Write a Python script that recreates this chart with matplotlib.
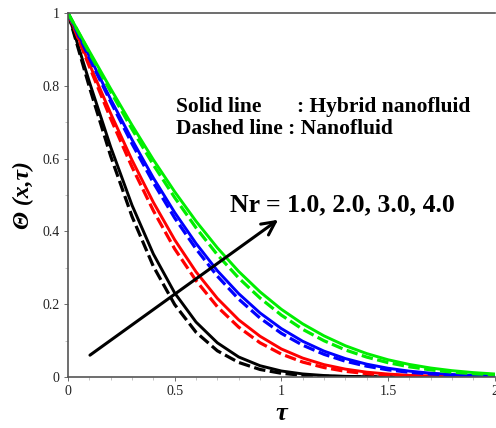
import matplotlib
matplotlib.use("Agg")
import matplotlib.pyplot as plt
from matplotlib.ticker import MultipleLocator

tau = [0.0, 0.1, 0.2, 0.3, 0.4, 0.5, 0.6, 0.7, 0.8, 0.9, 1.0,
       1.1, 1.2, 1.3, 1.4, 1.5, 1.6, 1.7, 1.8, 1.9, 2.0]

# Solid lines: hybrid nanofluid, Nr = 1.0, 2.0, 3.0, 4.0
hybrid_nr1 = [1.0, 0.811, 0.632, 0.472, 0.338, 0.231, 0.151, 0.094, 0.055, 0.031, 0.0165,
              0.0084, 0.0041, 0.0018, 0.0008, 0.0003, 0.0001, 0.0, 0.0, 0.0, 0.0]
hybrid_nr2 = [1.0, 0.860, 0.724, 0.596, 0.480, 0.377, 0.289, 0.216, 0.157, 0.112, 0.077,
              0.052, 0.034, 0.0217, 0.0133, 0.0081, 0.0047, 0.0027, 0.0015, 0.0008, 0.0004]
hybrid_nr3 = [1.0, 0.881, 0.763, 0.652, 0.547, 0.452, 0.367, 0.292, 0.229, 0.176, 0.133,
              0.0982, 0.0711, 0.0506, 0.0353, 0.0241, 0.0161, 0.0105, 0.0068, 0.0043, 0.0026]
hybrid_nr4 = [1.0, 0.895, 0.792, 0.692, 0.597, 0.509, 0.428, 0.355, 0.290, 0.234, 0.186,
              0.146, 0.113, 0.0859, 0.0644, 0.0474, 0.0345, 0.0247, 0.0174, 0.0121, 0.0083]

# Dashed lines: nanofluid, Nr = 1.0, 2.0, 3.0, 4.0
nano_nr1 = [1.0, 0.797, 0.607, 0.441, 0.304, 0.199, 0.123, 0.072, 0.040, 0.0207, 0.0102,
            0.0047, 0.0020, 0.0009, 0.0003, 0.0001, 0.0, 0.0, 0.0, 0.0, 0.0]
nano_nr2 = [1.0, 0.853, 0.710, 0.577, 0.457, 0.352, 0.265, 0.193, 0.137, 0.094, 0.063,
            0.041, 0.026, 0.0156, 0.0092, 0.0053, 0.0029, 0.0016, 0.0008, 0.0004, 0.0002]
nano_nr3 = [1.0, 0.876, 0.756, 0.641, 0.534, 0.437, 0.352, 0.277, 0.214, 0.162, 0.120,
            0.0874, 0.0623, 0.0434, 0.0297, 0.0197, 0.0129, 0.0083, 0.0052, 0.0032, 0.0019]
nano_nr4 = [1.0, 0.891, 0.784, 0.681, 0.583, 0.493, 0.410, 0.336, 0.272, 0.217, 0.170,
            0.131, 0.0996, 0.0744, 0.0547, 0.0394, 0.0280, 0.0196, 0.0134, 0.0091, 0.0060]

colors = ["#000000", "#ff0000", "#0000ff", "#00ee00"]
hybrid = [hybrid_nr1, hybrid_nr2, hybrid_nr3, hybrid_nr4]
nano = [nano_nr1, nano_nr2, nano_nr3, nano_nr4]

x_ticks = [0, 0.5, 1, 1.5, 2]
x_ticklabels = ["0", "0.5", "1", "1.5", "2"]
y_ticks = [0, 0.2, 0.4, 0.6, 0.8, 1]
y_ticklabels = ["0", "0.2", "0.4", "0.6", "0.8", "1"]

W, H = 496, 428
fig = plt.figure(figsize=(W / 100, H / 100), dpi=100)
ax = fig.add_axes([68 / W, (H - 377) / H, (494.7 - 68) / W, (377 - 13) / H])

serif = ["Liberation Serif", "DejaVu Serif"]

for c, hs, ns in zip(colors, hybrid, nano):
    ax.plot(tau, ns, color=c, lw=2.3, linestyle=(0, (3.6, 1.4)), solid_capstyle="butt")
    ax.plot(tau, hs, color=c, lw=2.1)

ax.set_xlim(0, 2)
ax.set_ylim(0, 1)
ax.set_xticks(x_ticks)
ax.set_xticklabels(x_ticklabels)
ax.set_yticks(y_ticks)
ax.set_yticklabels(y_ticklabels)
ax.xaxis.set_minor_locator(MultipleLocator(0.1))
ax.yaxis.set_minor_locator(MultipleLocator(0.1))
for lab in ax.get_xticklabels() + ax.get_yticklabels():
    lab.set_fontfamily(serif)
    lab.set_fontsize(10)
    lab.set_color("#222222")
ax.tick_params(which="major", direction="out", length=3, width=0.6, color="#555555", pad=3)
ax.tick_params(which="minor", direction="out", length=2, width=0.5, color="#aaaaaa")

for s in ["left", "bottom", "top"]:
    ax.spines[s].set_color("#555555")
    ax.spines[s].set_linewidth(1.2)
ax.spines["right"].set_visible(False)

ax.set_ylabel("Θ (x,τ)", fontfamily=serif, fontweight="bold", fontstyle="italic",
              fontsize=17, labelpad=6)
ax.set_xlabel("τ", fontfamily=serif, fontweight="bold", fontstyle="italic",
              fontsize=19, labelpad=3)

ax.text(0.506, 0.742, "Solid line", fontfamily=serif, fontweight="bold", fontsize=15.5,
        va="center", ha="left")
ax.text(1.075, 0.742, ": Hybrid nanofluid", fontfamily=serif, fontweight="bold", fontsize=15.5,
        va="center", ha="left")
ax.text(0.506, 0.681, "Dashed line : Nanofluid", fontfamily=serif, fontweight="bold",
        fontsize=15.5, va="center", ha="left")

ax.text(0.76, 0.474, "Nr = 1.0, 2.0, 3.0, 4.0", fontfamily=serif, fontweight="bold",
        fontsize=18.5, va="center", ha="left")

ax.annotate("", xy=(0.985, 0.432), xytext=(0.103, 0.06),
            arrowprops=dict(arrowstyle="->", lw=2.2, color="black", mutation_scale=24,
                            shrinkA=0, shrinkB=0))

fig.savefig("out.png", dpi=100)
